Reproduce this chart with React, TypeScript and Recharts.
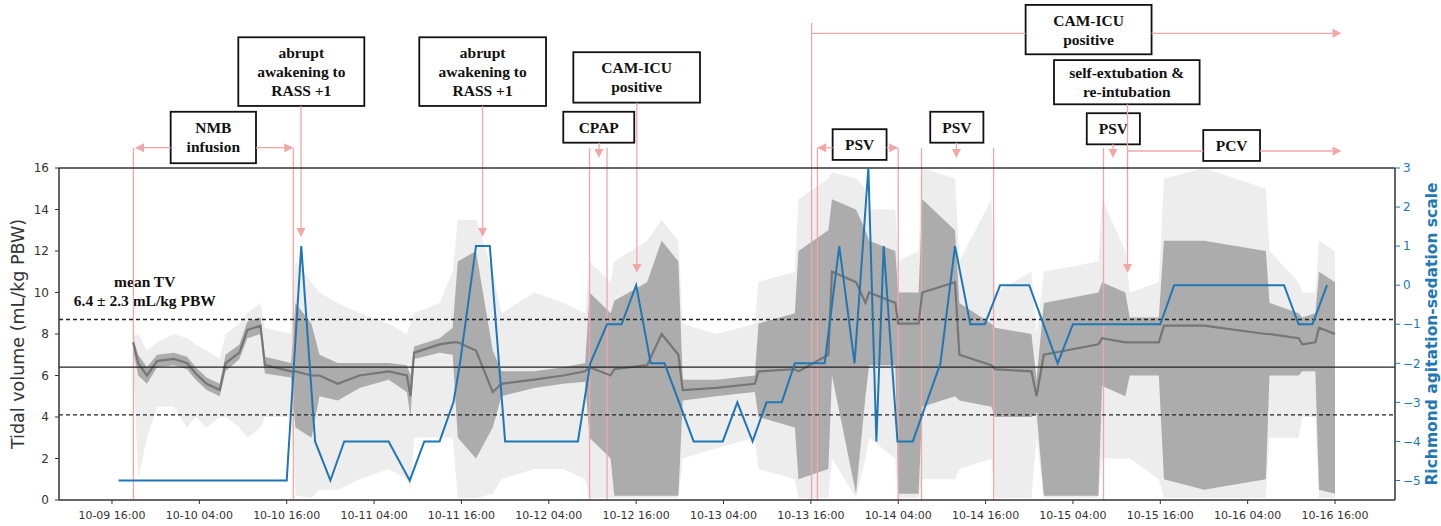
import React from 'react';
import { ComposedChart, Area, Line, XAxis, YAxis, ReferenceLine, ReferenceArea } from 'recharts';

// hours since 10-09 16:00
const TICK_HOURS = [0, 12, 24, 36, 48, 60, 72, 84, 96, 108, 120, 132, 144, 156, 168];
const TICK_LABELS = [
  '10-09 16:00', '10-10 04:00', '10-10 16:00', '10-11 04:00', '10-11 16:00',
  '10-12 04:00', '10-12 16:00', '10-13 04:00', '10-13 16:00', '10-14 04:00',
  '10-14 16:00', '10-15 04:00', '10-15 16:00', '10-16 04:00', '10-16 16:00',
];

// tidal volume cloud, read as envelopes (mL/kg PBW)
const TV_HOURS = [2.9, 3.6, 4.8, 6.2, 8.5, 10.3, 11.5, 13.0, 14.8, 15.6, 17.5, 18.6, 20.4, 21.0, 24.6, 25.2, 27.4, 28.5, 31.0, 34.0, 38.0, 40.5, 41.0, 41.5, 45.0, 46.8, 47.5, 50.0, 52.3, 53.5, 58.0, 62.0, 65.0, 65.6, 68.5, 69.0, 73.5, 75.5, 77.8, 78.4, 83.0, 88.3, 88.8, 93.8, 94.3, 98.4, 98.9, 102.2, 103.5, 104.0, 107.6, 108.0, 110.8, 111.3, 115.8, 116.4, 120.8, 121.3, 126.3, 127.0, 128.0, 135.5, 136.0, 139.2, 139.8, 143.8, 144.5, 150.0, 158.5, 159.0, 163.0, 163.5, 165.3, 165.8, 168.0];
const TV_CORE = [7.6, 6.6, 6.0, 6.7, 6.8, 6.6, 6.1, 5.6, 5.3, 6.6, 7.1, 8.2, 8.4, 6.5, 6.2, 6.2, 6.0, 6.0, 5.6, 6.0, 6.2, 6.0, 5.0, 7.1, 7.5, 7.6, 7.6, 7.2, 5.2, 5.6, 5.8, 6.0, 6.2, 6.4, 6.0, 6.3, 6.5, 8.0, 7.0, 5.3, 5.4, 5.6, 6.2, 6.3, 6.2, 7.0, 11.0, 10.5, 9.5, 10.0, 9.5, 8.5, 8.5, 10.0, 10.5, 7.0, 6.5, 6.3, 6.2, 5.0, 7.0, 7.5, 7.8, 7.6, 7.6, 7.6, 8.4, 8.4, 8.0, 8.0, 7.8, 7.5, 7.6, 8.3, 8.0];
const TV_LOW = [7.2, 6.0, 5.6, 6.4, 6.5, 6.3, 5.8, 5.3, 5.0, 6.2, 6.8, 7.8, 8.0, 6.1, 5.9, 3.5, 3.0, 5.0, 4.8, 5.4, 5.8, 5.2, 4.0, 6.8, 7.1, 7.0, 3.0, 2.0, 3.5, 5.0, 5.4, 5.6, 5.7, 3.0, 2.0, 0.2, 0.2, 0.2, 0.2, 4.8, 5.0, 5.2, 4.0, 3.5, 1.0, 1.5, 6.0, 0.3, 5.0, 6.5, 6.5, 0.3, 0.3, 4.5, 5.0, 4.8, 4.5, 4.0, 4.0, 4.2, 0.2, 0.2, 5.5, 5.0, 6.0, 6.0, 1.0, 0.5, 1.0, 6.0, 6.0, 6.2, 6.2, 0.5, 0.3];
const TV_HIGH = [7.8, 7.0, 6.4, 7.0, 7.1, 6.9, 6.4, 5.9, 5.6, 7.0, 7.5, 8.6, 8.8, 6.9, 6.6, 9.5, 8.5, 7.0, 6.6, 6.6, 6.6, 6.5, 6.0, 7.4, 7.8, 8.3, 11.5, 12.0, 7.2, 6.2, 6.2, 6.4, 6.6, 10.0, 9.0, 9.6, 10.5, 12.5, 11.5, 5.8, 5.8, 6.0, 8.5, 9.0, 12.0, 13.0, 14.5, 14.0, 13.0, 12.5, 12.0, 10.0, 10.0, 14.5, 13.0, 9.5, 8.5, 8.3, 8.0, 5.8, 9.5, 10.0, 10.5, 10.0, 8.8, 8.8, 12.5, 12.5, 12.0, 9.5, 9.0, 8.8, 9.0, 11.0, 10.5];
const TV_MIN = [6.8, 1.0, 3.0, 4.5, 4.5, 3.5, 4.0, 3.5, 4.0, 4.0, 3.5, 3.0, 3.5, 4.0, 4.0, 0.2, 0.1, 0.5, 0.5, 1.0, 1.5, 1.0, 0.5, 3.0, 3.0, 3.0, 0.1, 0.1, 0.3, 1.0, 1.5, 1.5, 1.0, 0.1, 0.1, 0.1, 0.1, 0.1, 0.1, 2.0, 2.5, 3.0, 1.5, 1.0, 0.1, 0.1, 2.0, 0.1, 2.0, 3.0, 2.0, 0.1, 0.1, 1.0, 1.0, 1.5, 2.0, 0.1, 0.1, 3.0, 0.1, 0.1, 2.0, 2.0, 2.0, 1.0, 0.1, 0.1, 0.1, 3.0, 3.0, 4.0, 4.0, 0.1, 0.1];
const TV_MAX = [7.9, 8.0, 7.2, 7.6, 8.0, 7.8, 7.5, 7.2, 6.8, 8.0, 8.5, 9.0, 9.5, 8.3, 8.0, 11.5, 10.5, 10.0, 9.5, 9.0, 8.5, 8.0, 8.5, 9.0, 9.5, 11.0, 13.5, 13.5, 11.0, 9.0, 10.0, 9.5, 9.0, 11.5, 10.5, 11.5, 12.5, 13.5, 12.5, 8.5, 8.0, 8.5, 10.5, 11.0, 14.5, 15.5, 15.8, 15.5, 15.0, 14.0, 14.0, 11.5, 12.0, 16.0, 15.5, 11.5, 14.5, 10.0, 11.0, 8.0, 11.0, 11.5, 14.5, 12.0, 10.0, 10.5, 15.5, 16.0, 15.0, 12.0, 10.5, 10.0, 10.0, 12.5, 12.0];

const TV_MEAN = 6.4;
const TV_SD = 2.3;

// Richmond agitation-sedation scale
const RASS_HOURS = [0.9, 24, 26, 27.9, 30, 31.9, 38, 40.9, 42.9, 45, 46.9, 47.8, 50, 51.9, 54, 64, 65.7, 68, 70, 72, 74, 75.9, 79.9, 83.9, 85.9, 88, 89.9, 92, 93.8, 97.9, 99.9, 102, 103.9, 105, 106, 107.9, 110, 113.8, 115.8, 117.9, 119.9, 122, 126, 129.9, 132, 144, 145.9, 161, 163, 164.9, 166.9];
const RASS_VALUES = [-5, -5, 1, -4, -5, -4, -4, -5, -4, -4, -3, -2, 1, 1, -4, -4, -2, -1, -1, 0, -2, -2, -4, -4, -3, -4, -3, -3, -2, -2, 1, -2, 3, -4, 1, -4, -4, -2, 1, -1, -1, 0, 0, -2, -1, -1, 0, 0, -1, -1, 0];

// event annotations, in hours / tidal-volume units
const EVENT_BOXES = [
  { lines: ['NMB', 'infusion'], x1: 8.06, x2: 19.78, top: 18.71, bottom: 16.23 },
  { lines: ['abrupt', 'awakening to', 'RASS +1'], x1: 17.35, x2: 34.66, top: 22.3, bottom: 18.99 },
  { lines: ['abrupt', 'awakening to', 'RASS +1'], x1: 42.21, x2: 59.62, top: 22.3, bottom: 18.99 },
  { lines: ['CAM-ICU', 'positive'], x1: 63.37, x2: 80.77, top: 21.58, bottom: 19.15 },
  { lines: ['CPAP'], x1: 61.99, x2: 71.74, top: 18.71, bottom: 17.22 },
  { lines: ['PSV'], x1: 98.99, x2: 106.4, top: 17.87, bottom: 16.39 },
  { lines: ['CAM-ICU', 'positive'], x1: 125.5, x2: 142.8, top: 23.86, bottom: 21.48 },
  { lines: ['self-extubation &', 're-intubation'], x1: 129.4, x2: 149.4, top: 21.2, bottom: 19.07 },
  { lines: ['PSV'], x1: 112.4, x2: 119.7, top: 18.71, bottom: 17.22 },
  { lines: ['PSV'], x1: 133.9, x2: 141.2, top: 18.64, bottom: 17.14 },
  { lines: ['PCV'], x1: 149.9, x2: 157.7, top: 17.83, bottom: 16.34 },
];

const EVENT_SEGMENTS = [
  // vertical markers
  { x1: 2.95, y1: 16.98, x2: 2.95, y2: 0, head: false },
  { x1: 24.9, y1: 16.98, x2: 24.9, y2: 0, head: false },
  { x1: 25.96, y1: 18.99, x2: 25.96, y2: 12.67, head: true },
  { x1: 50.9, y1: 18.99, x2: 50.9, y2: 12.67, head: true },
  { x1: 65.6, y1: 16.98, x2: 65.6, y2: 0, head: false },
  { x1: 68.0, y1: 16.98, x2: 68.0, y2: 0, head: false },
  { x1: 66.9, y1: 17.22, x2: 66.9, y2: 16.48, head: true },
  { x1: 72.1, y1: 19.15, x2: 72.1, y2: 10.94, head: true },
  { x1: 96.1, y1: 22.99, x2: 96.1, y2: 0, head: false },
  { x1: 96.9, y1: 16.98, x2: 96.9, y2: 0, head: false },
  { x1: 108.0, y1: 16.98, x2: 108.0, y2: 0, head: false },
  { x1: 111.2, y1: 16.98, x2: 111.2, y2: 0, head: false },
  { x1: 116.0, y1: 17.22, x2: 116.0, y2: 16.48, head: true },
  { x1: 121.1, y1: 16.98, x2: 121.1, y2: 0, head: false },
  { x1: 136.2, y1: 16.98, x2: 136.2, y2: 0, head: false },
  { x1: 137.5, y1: 17.14, x2: 137.5, y2: 16.48, head: true },
  { x1: 139.5, y1: 19.07, x2: 139.5, y2: 10.94, head: true },
  // horizontal spans
  { x1: 8.06, y1: 16.98, x2: 3.16, y2: 16.98, head: true },
  { x1: 19.78, y1: 16.98, x2: 24.9, y2: 16.98, head: true },
  { x1: 98.99, y1: 16.98, x2: 96.88, y2: 16.98, head: true },
  { x1: 106.4, y1: 16.98, x2: 108.0, y2: 16.98, head: true },
  { x1: 96.1, y1: 22.49, x2: 125.5, y2: 22.49, head: false },
  { x1: 142.8, y1: 22.49, x2: 168.9, y2: 22.49, head: true },
  { x1: 139.5, y1: 16.82, x2: 149.9, y2: 16.82, head: false },
  { x1: 157.7, y1: 16.82, x2: 168.9, y2: 16.82, head: true },
];

const MEAN_NOTE = { lines: ['mean TV', `${TV_MEAN} ± ${TV_SD} mL/kg PBW`], x1: -3, x2: 12, top: 10.99, bottom: 9.16 };

const PINK = '#f2a7a7';
const BLUE = '#1f77b4';
const SERIF = "'Liberation Serif', 'Times New Roman', serif";
const SANS = "'DejaVu Sans', sans-serif";

const tvData = TV_HOURS.map((h, i) => ({
  h,
  core: TV_CORE[i],
  dense: [TV_LOW[i], TV_HIGH[i]],
  sparse: [TV_MIN[i], TV_MAX[i]],
}));

const rassData = RASS_HOURS.map((h, i) => ({ h, rass: RASS_VALUES[i] }));

const arrowShape = (head: boolean) => (props: any) => {
  const { x1, y1, x2, y2 } = props;
  const dx = x2 - x1;
  const dy = y2 - y1;
  const len = Math.hypot(dx, dy) || 1;
  const ux = dx / len;
  const uy = dy / len;
  const hl = 9;
  const hw = 4.5;
  const bx = x2 - ux * hl;
  const by = y2 - uy * hl;
  return (
    <g>
      <line x1={x1} y1={y1} x2={head ? bx : x2} y2={head ? by : y2} stroke={PINK} strokeWidth={1.3} />
      {head && (
        <polygon
          points={`${x2},${y2} ${bx - uy * hw},${by + ux * hw} ${bx + uy * hw},${by - ux * hw}`}
          fill={PINK}
        />
      )}
    </g>
  );
};

const boxShape = (lines: string[], framed: boolean) => (props: any) => {
  const { x, y, width, height } = props;
  const cx = x + width / 2;
  const cy = y + height / 2;
  const lh = 19;
  return (
    <g>
      {framed && <rect x={x} y={y} width={width} height={height} fill="#fff" stroke="#111" strokeWidth={1.8} />}
      {lines.map((t, i) => (
        <text
          key={i}
          x={cx}
          y={cy + (i - (lines.length - 1) / 2) * lh}
          textAnchor="middle"
          dominantBaseline="central"
          fontFamily={SERIF}
          fontWeight="bold"
          fontSize={15.5}
          fill="#111"
        >
          {t}
        </text>
      ))}
    </g>
  );
};

const LeftTitle = (props: any) => {
  const { x, y, height } = props.viewBox;
  const cx = x + 18;
  const cy = y + height / 2;
  return (
    <text x={cx} y={cy} transform={`rotate(-90 ${cx} ${cy})`} textAnchor="middle" dominantBaseline="central"
      fontFamily={SANS} fontSize={17.5} fill="#333">
      Tidal volume (mL/kg PBW)
    </text>
  );
};

const RightTitle = (props: any) => {
  const { x, y, height } = props.viewBox;
  const cx = x + 37;
  const cy = y + height / 2;
  return (
    <text x={cx} y={cy} transform={`rotate(-90 ${cx} ${cy})`} textAnchor="middle" dominantBaseline="central"
      fontFamily={SANS} fontSize={15.5} fontWeight="bold" fill={BLUE}>
      Richmond agitation-sedation scale
    </text>
  );
};

export default function App() {
  return (
    <div style={{ position: 'absolute', left: 0, top: 0, width: 1441, height: 526, background: '#fff', fontFamily: SANS }}>
      <ComposedChart width={1441} height={526} margin={{ top: 168, right: 0, bottom: 0, left: 0 }}>
        <XAxis
          dataKey="h"
          type="number"
          domain={[-7.28, 176.24]}
          allowDataOverflow
          ticks={TICK_HOURS}
          interval={0}
          tickFormatter={(v: number) => TICK_LABELS[TICK_HOURS.indexOf(v)] ?? ''}
          height={26}
          tickSize={4}
          tickMargin={7}
          tick={{ fontSize: 11, fill: '#333', fontFamily: SANS }}
          axisLine={{ stroke: '#333', strokeWidth: 1.5 }}
          tickLine={{ stroke: '#333' }}
        />
        <YAxis
          yAxisId="tv"
          orientation="left"
          type="number"
          domain={[0, 16]}
          allowDataOverflow
          ticks={[0, 2, 4, 6, 8, 10, 12, 14, 16]}
          width={59}
          tickSize={4}
          tickMargin={6}
          tick={{ fontSize: 12, fill: '#333', fontFamily: SANS }}
          axisLine={{ stroke: '#333', strokeWidth: 1.5 }}
          tickLine={{ stroke: '#333' }}
          label={<LeftTitle />}
        />
        <YAxis
          yAxisId="rass"
          orientation="right"
          type="number"
          domain={[-5.5, 3]}
          allowDataOverflow
          ticks={[-5, -4, -3, -2, -1, 0, 1, 2, 3]}
          width={46}
          tickSize={5}
          tickMargin={3}
          tickFormatter={(v: number) => (v < 0 ? `\u2212${-v}` : `${v}`)}
          tick={{ fontSize: 12, fill: BLUE, fontFamily: SANS }}
          axisLine={{ stroke: '#333', strokeWidth: 1.5 }}
          tickLine={{ stroke: BLUE }}
          label={<RightTitle />}
        />

        {EVENT_SEGMENTS.map((s, i) => (
          <ReferenceLine
            key={`seg-${i}`}
            yAxisId="tv"
            ifOverflow="visible"
            segment={[{ x: s.x1, y: s.y1 }, { x: s.x2, y: s.y2 }]}
            shape={arrowShape(s.head)}
          />
        ))}

        <Area
          data={tvData}
          yAxisId="tv"
          dataKey="sparse"
          type="linear"
          stroke="none"
          fill="#9a9a9a"
          fillOpacity={0.18}
          isAnimationActive={false}
        />
        <Area
          data={tvData}
          yAxisId="tv"
          dataKey="dense"
          type="linear"
          stroke="none"
          fill="#858585"
          fillOpacity={0.62}
          isAnimationActive={false}
        />
        <Line
          data={tvData}
          yAxisId="tv"
          dataKey="core"
          type="linear"
          stroke="#767676"
          strokeWidth={2.2}
          dot={false}
          isAnimationActive={false}
        />

        <ReferenceLine yAxisId="tv" y={16} stroke="#333" strokeWidth={1.5} />
        <ReferenceLine yAxisId="tv" y={TV_MEAN} stroke="#222" strokeWidth={1.3} />
        <ReferenceLine yAxisId="tv" y={TV_MEAN + TV_SD} stroke="#222" strokeWidth={1.3} strokeDasharray="4 3" />
        <ReferenceLine yAxisId="tv" y={TV_MEAN - TV_SD} stroke="#222" strokeWidth={1.3} strokeDasharray="4 3" />

        <Line
          data={rassData}
          yAxisId="rass"
          dataKey="rass"
          type="linear"
          stroke={BLUE}
          strokeWidth={2}
          dot={false}
          isAnimationActive={false}
        />

        {EVENT_BOXES.map((b, i) => (
          <ReferenceArea
            key={`box-${i}`}
            yAxisId="tv"
            ifOverflow="visible"
            x1={b.x1}
            x2={b.x2}
            y1={b.bottom}
            y2={b.top}
            shape={boxShape(b.lines, true)}
          />
        ))}
        <ReferenceArea
          yAxisId="tv"
          ifOverflow="visible"
          x1={MEAN_NOTE.x1}
          x2={MEAN_NOTE.x2}
          y1={MEAN_NOTE.bottom}
          y2={MEAN_NOTE.top}
          shape={boxShape(MEAN_NOTE.lines, false)}
        />
      </ComposedChart>
    </div>
  );
}
